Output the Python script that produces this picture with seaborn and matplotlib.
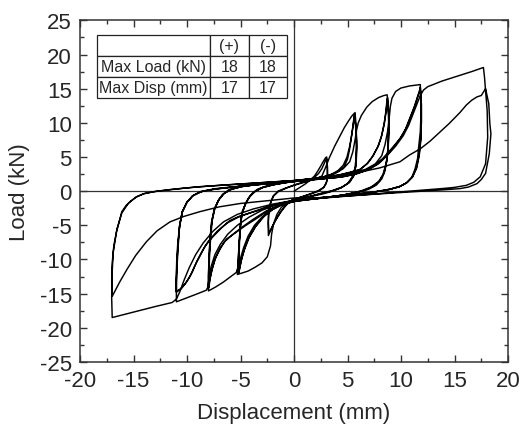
import numpy as np
import pandas as pd
import matplotlib
matplotlib.use("Agg")
import matplotlib.pyplot as plt
from matplotlib.ticker import MultipleLocator
import seaborn as sns

# Load-displacement record, split by loading amplitude (mm, kN)
amp_2_5_disp = [0, 0.5, 1.0, 1.5, 1.9, 2.2, 2.5, 2.75, 2.95, 3.05,
                3.1, 3.12, 3.1, 3.0, 2.75, 2.3, 1.6, 0.8, 0.0, -0.5, -0.9, -1.3, -1.7, -2.0, -2.25, -2.4,
                -2.42, -2.4, -2.3, -2.15, -1.9, -1.5, -0.8, 0.0, 0.8, 1.4,
                1.9, 2.3, 2.6, 2.8, 2.95, 3.05,
                3.12, 3.12, 3.05, 2.8, 2.3, 1.5, 0.6, -0.2, -0.7, -1.2, -1.6, -1.95, -2.2, -2.35,
                -2.4, -2.35, -2.2, -1.95, -1.5, -0.7, 0.2, 1.2, 2.0, 2.6]
amp_2_5_load = [0, 0.5, 1.0, 1.6, 2.2, 2.9, 3.7, 4.4, 4.9, 5.0,
                4.0, 2.8, 1.8, 1.1, 0.5, 0.0, -0.4, -0.8, -1.15, -1.6, -2.3, -3.2, -4.2, -5.1, -5.9, -6.5,
                -5.0, -3.5, -2.3, -1.5, -0.7, -0.1, 0.4, 0.9, 1.3, 1.6,
                2.0, 2.6, 3.3, 4.0, 4.5, 4.7,
                3.6, 2.4, 1.4, 0.6, 0.1, -0.4, -0.9, -1.3, -2.0, -2.9, -3.9, -4.9, -5.7, -6.2,
                -4.6, -3.0, -1.7, -0.7, 0.0, 0.5, 0.95, 1.4, 1.8, 2.2]

amp_5_5_disp = [2.9, 3.3, 3.8, 4.3, 4.7, 5.1, 5.4, 5.7,
                5.8, 5.85, 5.8, 5.7, 5.4, 5.0, 4.4, 3.6, 2.7, 1.5, 0.3, -0.6, -1.2, -1.6, -1.9, -2.1, -2.2,
                -2.5, -3.0, -3.6, -4.3, -4.9, -5.3,
                -5.25, -5.15, -5.05, -4.9, -4.6, -4.3, -3.9, -3.4, -2.7, -1.8, -0.8, 0.3, 1.4, 2.4, 3.4,
                4.2, 4.7, 5.0, 5.2, 5.35, 5.5, 5.6, 5.65,
                5.8, 5.85, 5.8, 5.6, 5.2, 4.5, 3.6, 2.6, 1.4, 0.2, -1.0, -2.0, -2.8, -3.6, -4.2, -4.6,
                -4.9, -5.05, -5.15,
                -5.15, -5.1, -5.0, -4.85, -4.55, -4.2, -3.7, -3.0, -2.0, -1.0, 0.2, 1.3, 2.4, 3.4,
                4.1, 4.6, 4.95, 5.2, 5.4, 5.55, 5.65,
                5.8, 5.85, 5.8, 5.55, 5.1, 4.4, 3.5, 2.4, 1.2, 0.0, -1.1, -2.2, -3.0, -3.7, -4.3, -4.7,
                -4.95, -5.1, -5.2,
                -5.2, -5.12, -5.0, -4.85, -4.5, -4.1, -3.6, -2.9, -1.9, -0.8, 0.4, 1.6, 2.8, 3.8, 4.6, 5.2]
amp_5_5_load = [3.3, 4.9, 6.6, 8.1, 9.3, 10.3, 11.0, 11.5,
                9.5, 7.3, 5.0, 3.4, 2.0, 1.1, 0.5, 0.0, -0.4, -0.8, -1.2, -1.6, -2.4, -3.4, -4.7, -6.3, -8.0,
                -9.6, -10.5, -11.1, -11.7, -12.0, -12.2,
                -10.5, -8.0, -5.5, -3.5, -2.1, -1.1, -0.3, 0.3, 0.7, 1.0, 1.25, 1.5, 1.7, 1.9, 2.3,
                2.9, 3.6, 4.7, 6.2, 7.8, 9.5, 10.8, 11.3,
                9.0, 6.5, 4.0, 2.3, 1.3, 0.6, 0.1, -0.3, -0.8, -1.3, -1.9, -2.7, -3.7, -5.2, -6.8, -8.4,
                -9.9, -11.0, -11.9,
                -10.0, -7.5, -5.0, -3.2, -1.9, -0.9, -0.1, 0.5, 0.9, 1.2, 1.45, 1.7, 1.95, 2.4,
                3.0, 3.8, 5.0, 6.6, 8.3, 9.9, 11.0,
                8.8, 6.2, 3.8, 2.2, 1.2, 0.5, 0.0, -0.4, -0.9, -1.3, -1.9, -2.8, -3.9, -5.4, -7.0, -8.7,
                -10.3, -11.4, -12.0,
                -10.0, -7.3, -4.8, -3.0, -1.7, -0.7, 0.0, 0.55, 0.95, 1.25, 1.5, 1.75, 2.1, 2.6, 3.3, 4.3]

amp_8_5_disp = [5.5, 5.7, 5.85, 6.0, 6.3, 6.8, 7.3, 7.9, 8.4, 8.7,
                8.8, 8.85, 8.8, 8.7, 8.5, 8.2, 7.7, 7.0, 6.0, 4.5, 3.0, 1.5, 0.0, -1.2, -2.2, -3.0, -3.7,
                -4.3, -4.7, -5.0, -5.2, -5.4, -6.0, -6.6, -7.3, -8.0,
                -8.0, -7.95, -7.85, -7.7, -7.45, -7.1, -6.7, -6.1, -5.3, -4.2, -3.0, -1.5, 0.0, 1.5, 3.0,
                4.3, 5.3,
                6.2, 6.9, 7.4, 7.9, 8.2, 8.45, 8.6, 8.7, 8.75,
                8.85, 8.85, 8.8, 8.65, 8.4, 8.0, 7.4, 6.5, 5.2, 3.6, 2.0, 0.4, -1.0, -2.3, -3.5, -4.5,
                -5.4, -6.3, -6.9, -7.3, -7.65, -7.85, -7.95,
                -7.95, -7.9, -7.8, -7.65, -7.4, -7.0, -6.5, -5.8, -4.8, -3.5, -2.0, -0.5, 1.0, 2.5, 4.0,
                5.2,
                6.1, 6.8, 7.3, 7.8, 8.15, 8.4, 8.55, 8.65, 8.7,
                8.85, 8.85, 8.8, 8.6, 8.3, 7.9, 7.2, 6.2, 4.8, 3.2, 1.6, 0.0, -1.3, -2.6, -3.8, -4.8,
                -5.7, -6.5, -7.0, -7.4, -7.7, -7.9, -8.0,
                -8.0, -7.95, -7.85, -7.7, -7.45, -7.05, -6.6, -5.9, -4.9, -3.6, -2.0, -0.5, 1.0, 2.5,
                4.0, 5.5, 6.7, 7.6, 8.2]
amp_8_5_load = [5.8, 7.5, 9.0, 10.0, 11.1, 12.3, 13.1, 13.7, 14.0, 14.1,
                12.0, 9.6, 7.0, 4.8, 3.0, 1.8, 0.9, 0.3, -0.2, -0.6, -0.9, -1.2, -1.5, -2.0, -2.8, -3.8, -5.0,
                -6.6, -8.2, -9.8, -11.0, -11.9, -12.6, -13.3, -14.0, -14.6,
                -12.5, -10.0, -7.0, -4.5, -2.7, -1.4, -0.5, 0.2, 0.6, 0.9, 1.1, 1.35, 1.55, 1.8, 2.1,
                2.4, 2.8,
                3.2, 4.1, 5.2, 6.7, 8.2, 10.0, 11.6, 13.0, 13.7,
                11.5, 9.0, 6.5, 4.3, 2.6, 1.5, 0.7, 0.1, -0.4, -0.8, -1.1, -1.4, -1.9, -2.7, -4.0, -5.0,
                -6.0, -7.0, -8.3, -9.6, -11.3, -12.8, -14.0,
                -12.0, -9.5, -6.8, -4.3, -2.5, -1.2, -0.3, 0.3, 0.7, 1.0, 1.25, 1.45, 1.7, 2.0, 2.3,
                2.7,
                3.1, 4.0, 5.0, 6.4, 7.9, 9.7, 11.3, 12.7, 13.5,
                11.2, 8.6, 6.2, 4.0, 2.4, 1.4, 0.6, 0.0, -0.5, -0.9, -1.2, -1.5, -2.0, -2.9, -4.1, -5.2,
                -6.3, -7.4, -8.7, -10.0, -11.7, -13.1, -14.2,
                -12.2, -9.6, -6.9, -4.4, -2.6, -1.3, -0.4, 0.25, 0.65, 0.95, 1.2, 1.4, 1.65, 1.95,
                2.25, 2.7, 3.2, 4.0, 5.2]

amp_11_5_disp = [8.5, 8.75, 8.9, 9.0, 9.15, 9.5, 10.0, 10.8, 11.8,
                 11.85, 11.85, 11.8, 11.65, 11.55, 11.3, 11.0, 10.5, 9.9, 9.0, 7.5, 6.0, 4.0, 2.0, 0.0,
                 -1.5, -3.0, -4.2, -5.3, -6.2, -6.9, -7.4, -7.75, -7.95, -8.05, -8.2, -9.0, -10.0, -11.0,
                 -11.0, -10.95, -10.9, -10.8, -10.7, -10.45, -10.0, -9.5, -8.8, -7.6, -6.0, -4.0, -2.0,
                 0.0, 2.0, 4.0, 5.5, 6.5,
                 7.5, 8.3, 9.1, 9.9, 10.4, 10.8, 11.2, 11.5, 11.7, 11.8,
                 11.9, 11.9, 11.85, 11.7, 11.45, 11.1, 10.6, 9.9, 8.8, 7.2, 5.5, 3.5, 1.5, -0.5, -2.0,
                 -3.5, -5.0, -6.0, -6.8, -7.6, -8.3, -8.8, -9.3, -9.7, -10.2, -10.6, -11.0,
                 -11.0, -10.95, -10.85, -10.7, -10.45, -10.05, -9.5, -8.7, -7.4, -5.6, -3.6, -1.6, 0.4,
                 2.4, 4.4, 5.8, 6.8,
                 7.7, 8.5, 9.3, 10.0, 10.5, 10.9, 11.3, 11.55, 11.75, 11.8,
                 11.9, 11.9, 11.85, 11.7, 11.45, 11.05, 10.5, 9.8, 8.6, 7.0, 5.2, 3.2, 1.2, -0.8, -2.3,
                 -3.8, -5.2, -6.3, -7.2, -8.0, -8.6, -9.1, -9.5, -10.0, -10.5, -11.0,
                 -11.02, -10.97, -10.87, -10.7, -10.45, -10.0, -9.4, -8.5, -7.2, -5.4, -3.4, -1.4, 0.6,
                 2.6, 4.6, 6.0, 7.0, 7.9]
amp_11_5_load = [6.8, 8.8, 10.8, 12.4, 13.6, 14.6, 15.1, 15.4, 15.6,
                 13.1, 10.8, 8.7, 6.5, 4.8, 3.2, 2.0, 1.2, 0.7, 0.3, -0.1, -0.4, -0.8, -1.1, -1.4,
                 -1.9, -2.8, -3.8, -5.0, -6.3, -7.8, -9.3, -11.0, -12.8, -14.0, -14.5, -15.0, -15.6, -16.2,
                 -13.8, -11.5, -9.9, -7.3, -5.0, -3.0, -1.6, -0.7, -0.1, 0.25, 0.55, 0.85, 1.15,
                 1.4, 1.7, 2.0, 2.4, 2.9,
                 3.7, 4.8, 6.2, 7.7, 9.0, 10.6, 12.2, 13.6, 14.6, 15.2,
                 12.8, 10.2, 7.8, 5.5, 3.5, 2.2, 1.3, 0.7, 0.2, -0.2, -0.5, -0.8, -1.1, -1.5, -2.1,
                 -2.9, -3.6, -4.3, -5.4, -6.7, -8.0, -9.5, -11.0, -12.4, -13.6, -14.3, -14.8,
                 -13.0, -10.5, -7.8, -5.2, -3.1, -1.7, -0.7, -0.05, 0.35, 0.65, 0.95, 1.25, 1.5,
                 1.8, 2.1, 2.6, 3.1,
                 3.9, 5.0, 6.4, 7.9, 9.3, 10.9, 12.5, 13.8, 14.6, 15.0,
                 12.6, 10.0, 7.5, 5.2, 3.3, 2.0, 1.2, 0.6, 0.15, -0.25, -0.55, -0.85, -1.15, -1.6, -2.2,
                 -3.0, -3.8, -4.7, -5.9, -7.3, -8.8, -10.3, -11.8, -13.2, -14.2, -14.7,
                 -12.8, -10.2, -7.6, -5.1, -3.0, -1.6, -0.6, 0.0, 0.35, 0.65, 0.95, 1.25, 1.5,
                 1.8, 2.1, 2.6, 3.2, 4.0]

amp_17_5_disp = [8.7, 9.5, 10.2, 10.7, 11.1, 11.5, 11.8, 12.1, 12.5, 13.0, 13.8, 14.6, 15.6, 16.6, 17.7,
                 17.8, 17.9, 18.05, 18.1, 17.9, 17.4, 16.8, 16.1, 15.0, 14.0, 12.0, 10.0, 8.0, 6.0, 4.0,
                 2.0, 0.0, -2.0, -3.8, -5.3, -6.6, -7.6, -8.5, -9.2, -9.8, -10.3, -10.7, -11.0, -11.4,
                 -13.0, -15.0, -17.0,
                 -17.05, -17.0, -16.9, -16.6, -16.1, -15.7, -15.3, -14.7, -14.1, -13.2, -12.2, -10.5,
                 -8.8, -6.0, -3.0, 0.0, 3.0, 5.0, 6.5,
                 8.0, 9.9, 10.8, 11.8, 12.7, 13.6, 14.5, 15.5, 16.1, 16.6, 17.1, 17.5, 17.9,
                 18.2, 18.3, 18.4, 18.25, 17.9, 17.5, 17.1, 16.3, 15.5, 14.0, 12.0, 10.0, 7.0, 4.0, 1.0,
                 0.0, -2.5, -5.0, -7.0, -8.8, -10.3, -11.6, -12.8, -13.8, -14.8, -15.6, -16.3, -17.0,
                 -17.05, -17.0, -16.85, -16.55, -16.1, -15.5, -14.8, -14.0, -13.0, -11.5, -9.5, -7.0,
                 -4.0, -1.0]
amp_17_5_load = [5.2, 6.6, 8.1, 9.6, 11.2, 12.8, 14.0, 14.8, 15.3, 15.6, 16.1, 16.5, 17.0, 17.5, 18.1,
                 16.7, 14.8, 11.8, 7.9, 4.0, 2.1, 1.3, 0.85, 0.55, 0.4, 0.15, -0.1, -0.35, -0.6, -0.85,
                 -1.1, -1.35, -1.9, -2.6, -3.4, -4.5, -5.9, -7.6, -9.3, -11.2, -13.1, -14.8, -15.8, -16.3,
                 -16.9, -17.7, -18.5,
                 -15.5, -11.8, -8.9, -6.0, -3.0, -2.1, -1.5, -0.8, -0.4, -0.1, 0.1, 0.4,
                 0.66, 0.95, 1.25, 1.55, 2.0, 2.5, 2.9,
                 3.4, 4.3, 5.3, 6.2, 7.3, 8.6, 9.9, 11.5, 12.6, 13.3, 13.8, 14.0, 15.0,
                 12.8, 9.9, 8.4, 5.5, 2.6, 1.7, 1.1, 0.6, 0.37, 0.2, 0.0, -0.2, -0.5, -0.8, -1.1,
                 -1.0, -1.4, -1.8, -2.3, -3.0, -3.7, -4.5, -5.8, -7.4, -9.4, -11.4, -13.3, -15.4,
                 -13.0, -10.5, -8.0, -5.5, -3.2, -1.8, -0.9, -0.35, -0.05, 0.25, 0.55, 0.85,
                 1.15, 1.45]

# Peak summary shown in the inset table
table_cols = ["", "(+)", "(-)"]
table_rows = ["Max Load (kN)", "Max Disp (mm)"]
max_load = [18, 18]
max_disp = [17, 17]

stages = [("2.5", amp_2_5_disp, amp_2_5_load),
          ("5.5", amp_5_5_disp, amp_5_5_load),
          ("8.5", amp_8_5_disp, amp_8_5_load),
          ("11.5", amp_11_5_disp, amp_11_5_load),
          ("17.5", amp_17_5_disp, amp_17_5_load)]
frames = []
for name, d, p in stages:
    frames.append(pd.DataFrame({"Displacement": d, "Load": p, "stage": name}))
df = pd.concat(frames, ignore_index=True)

sns.set_style("ticks")
plt.rcParams["font.family"] = ["Liberation Sans", "DejaVu Sans"]
plt.rcParams["axes.unicode_minus"] = False
plt.rcParams["axes.linewidth"] = 1.1

fig = plt.figure(figsize=(5.27, 4.27), dpi=100)
ax = fig.add_axes([0.152, 0.150, 0.812, 0.800])

ax.axhline(0, color="#333333", lw=0.9, zorder=1)
ax.axvline(0, color="#333333", lw=0.9, zorder=1)

sns.lineplot(data=df, x="Displacement", y="Load", sort=False, estimator=None,
             color="black", lw=1.05, ax=ax, zorder=3)

ax.set_xlim(-20, 20)
ax.set_ylim(-25, 25)
ax.xaxis.set_major_locator(MultipleLocator(5))
ax.xaxis.set_minor_locator(MultipleLocator(2.5))
ax.yaxis.set_major_locator(MultipleLocator(5))
ax.yaxis.set_minor_locator(MultipleLocator(2.5))
ax.tick_params(which="both", direction="in", top=True, right=True,
               labelsize=16, color="#333333", width=1.0)
ax.tick_params(which="major", length=5, pad=6)
ax.tick_params(which="minor", length=3)
for s in ax.spines.values():
    s.set_color("#333333")

ax.set_xlabel("Displacement (mm)", fontsize=16, labelpad=8)
ax.set_ylabel("Load (kN)", fontsize=16, labelpad=7)

cell_text = [[table_rows[0], str(max_load[0]), str(max_load[1])],
             [table_rows[1], str(max_disp[0]), str(max_disp[1])]]
tbl = ax.table(cellText=cell_text, colLabels=table_cols,
               cellLoc="center", colLoc="center",
               colWidths=[0.597, 0.2015, 0.2015],
               bbox=[0.039, 0.773, 0.444, 0.1845], zorder=5)
tbl.auto_set_font_size(False)
tbl.set_fontsize(11.5)
for cell in tbl.get_celld().values():
    cell.set_edgecolor("#222222")
    cell.set_linewidth(0.9)
    cell.set_facecolor("white")
    cell.PAD = 0.02

fig.savefig("out.png", dpi=100)
